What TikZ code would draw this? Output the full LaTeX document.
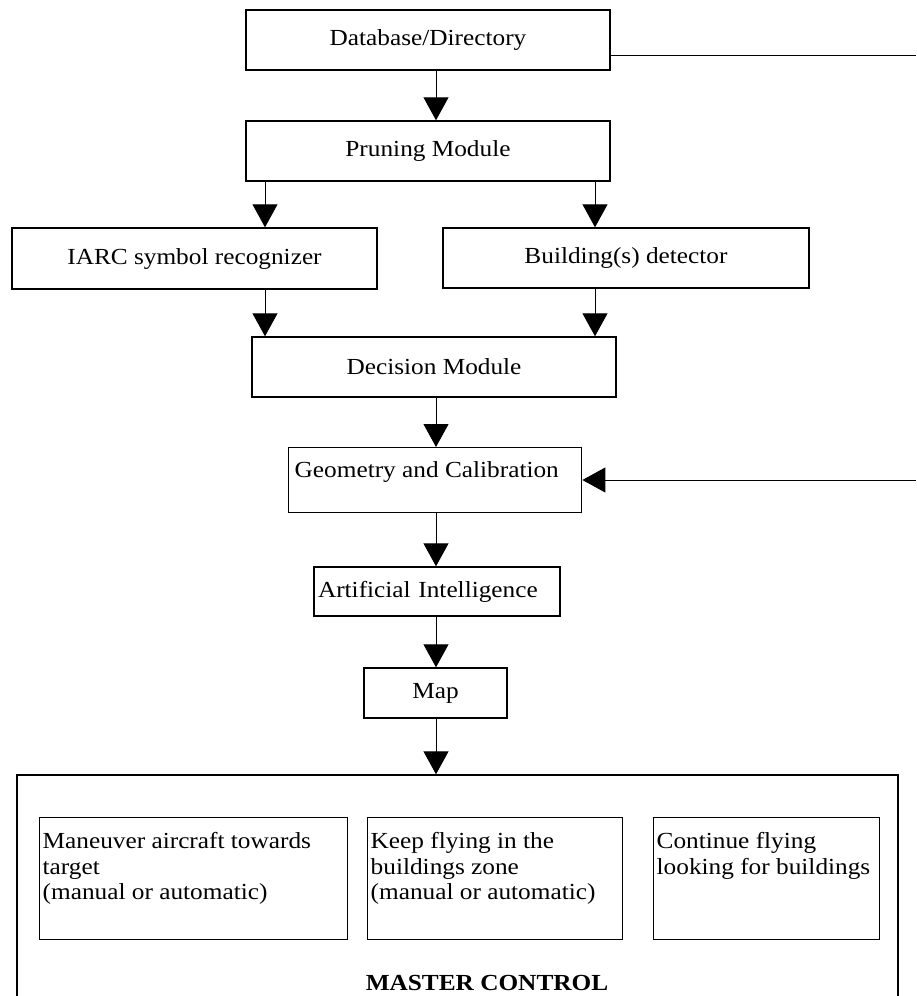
\documentclass[tikz,border=0pt]{standalone}
\usepackage{fontspec}
\setmainfont{Liberation Serif}[FakeStretch=1.1]
\usetikzlibrary{arrows.meta, positioning}

\begin{document}
\begin{tikzpicture}[x=0.5pt, y=-0.5pt,
  blk/.style={draw, line width=0.7pt, inner sep=0pt, align=center, font=\fontsize{11.5}{12.75}\selectfont},
  tlbox/.style={draw, line width=0.7pt, inner ysep=0pt, anchor=north west, font=\fontsize{11.5}{12.75}\selectfont},
  arr/.style={line width=0.5pt, -{Triangle[length=11.5pt, width=12.5pt]}}]
  \useasboundingbox (0,0) rectangle (916,996);

  % columns of the arrows, free ends on the right
  \coordinate (spine) at (436,0);
  \coordinate (lcol) at (265,0);
  \coordinate (rcol) at (595,0);
  \coordinate (feedA) at (916,55);
  \coordinate (feedB) at (916,480);

  % Database/Directory
  \node[blk, minimum width=182pt, minimum height=30pt] (db) at (428,40) {Database/Directory};

  % Pruning
  \node[blk, minimum width=182pt, minimum height=30pt] (prune) at (428,151) {Pruning Module};

  % recognizer and detector
  \node[blk, minimum width=182.5pt, minimum height=30.5pt] (iarc) at (194.5,258.5) {IARC symbol recognizer};
  \node[blk, minimum width=183pt, minimum height=30pt] (bldg) at (626,258) {Building(s) detector};

  % Decision
  \node[blk, minimum width=182pt, minimum height=30pt] (dec) at (434,367) {Decision Module};

  % Geometry and Calibration
  \node[tlbox, inner xsep=3pt] (geo) at (288,447) {\parbox[t][32.5pt][t]{140.5pt}{\vspace*{6pt}\strut Geometry and Calibration}};

  % AI and Map
  \node[blk, minimum width=123pt, minimum height=24.5pt, text width=119pt, align=left] (ai) at (437,591.5) {Artificial Intelligence};
  \node[blk, minimum width=71.5pt, minimum height=25pt] (map) at (435.5,693) {Map};

  % Master control
  \node[draw, line width=0.7pt, inner sep=0pt, minimum width=440.5pt, minimum height=112.5pt] (master) at (457.5,887.5) {};
  \node[tlbox, inner xsep=1.5pt] (manv) at (39,817) {\parbox[t][61pt][t]{151pt}{\vspace*{6.5pt}\strut Maneuver aircraft towards\\target\\(manual or automatic)}};
  \node[tlbox, inner xsep=1.5pt] (keep) at (367,817) {\parbox[t][61pt][t]{124.5pt}{\vspace*{6.5pt}\strut Keep flying in the\\buildings zone\\(manual or automatic)}};
  \node[tlbox, inner xsep=1.5pt] (cont) at (653,817) {\parbox[t][61pt][t]{110pt}{\vspace*{6.5pt}\strut Continue flying\\looking for buildings}};
  \node[font=\fontsize{11.5}{12.75}\selectfont\bfseries] (mctext) at (487,983) {MASTER CONTROL};

  % connectors
  \draw[arr] (db.south -| spine) -- (prune.north -| spine);
  \draw[arr] (prune.south -| lcol) -- (iarc.north -| lcol);
  \draw[arr] (prune.south -| rcol) -- (bldg.north -| rcol);
  \draw[arr] (iarc.south -| lcol) -- (dec.north -| lcol);
  \draw[arr] (bldg.south -| rcol) -- (dec.north -| rcol);
  \draw[arr] (dec.south -| spine) -- (geo.north -| spine);
  \draw[arr] (geo.south -| spine) -- (ai.north -| spine);
  \draw[arr] (ai.south -| spine) -- (map.north -| spine);
  \draw[arr] (map.south -| spine) -- (master.north -| spine);
  \draw[line width=0.5pt] (db.east |- feedA) -- (feedA);
  \draw[arr] (feedB) -- (geo.east |- feedB);
\end{tikzpicture}
\end{document}
